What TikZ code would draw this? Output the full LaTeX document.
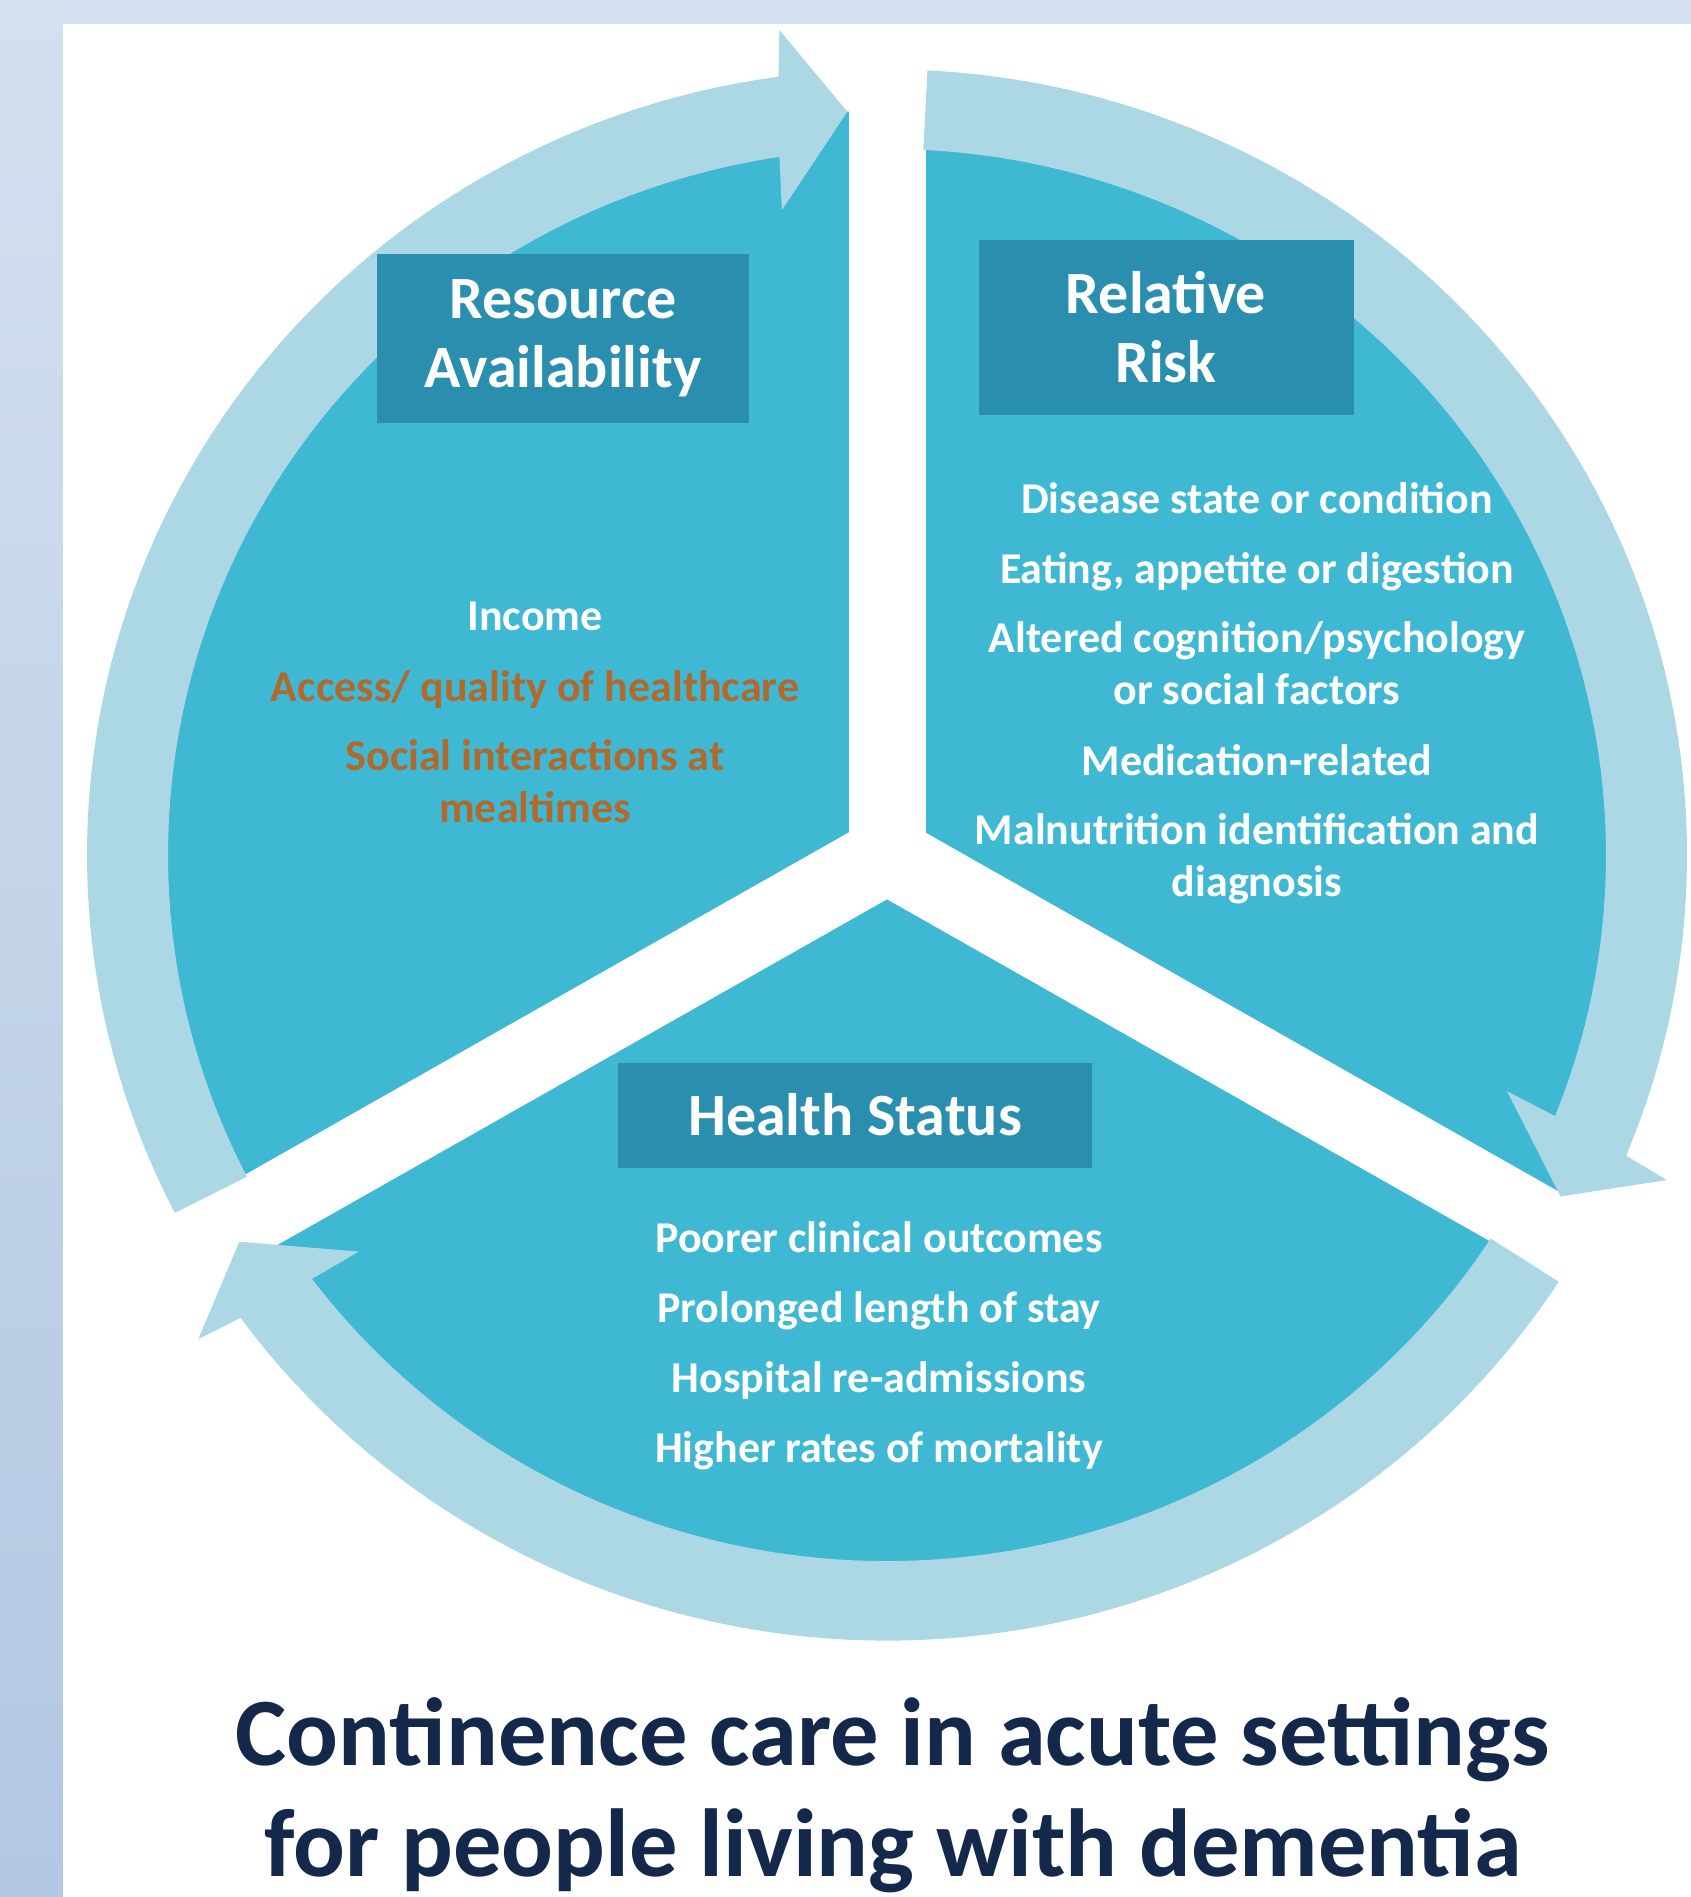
\documentclass[tikz,border=0pt]{standalone}
\usepackage{fontspec}
\setmainfont{Carlito}
\usepackage[dvipsnames]{xcolor}
\usepackage{tikz}

\begin{document}
\begin{tikzpicture}[x=0.5pt,y=0.5pt,yscale=-1,xscale=1,
  sector/.style={fill={rgb, 255:red, 62; green, 184; blue, 211 }},
  ringarrow/.style={fill={rgb, 255:red, 172; green, 215; blue, 228 }},
  gapline/.style={draw=white, line width=38.5pt},
  headbox/.style={fill={rgb, 255:red, 42; green, 142; blue, 174 }, text=white, align=center, inner sep=0.75pt, font=\fontsize{30}{34.5}\selectfont\bfseries},
  bodytxt/.style={text=white, align=center, inner sep=0.75pt, font=\fontsize{22}{26}\selectfont\bfseries},
  ochretxt/.style={bodytxt, text={rgb, 255:red, 178; green, 106; blue, 44 }},
  titletxt/.style={text={rgb, 255:red, 20; green, 40; blue, 75 }, inner sep=0.75pt, font=\fontsize{48.3}{58}\selectfont\bfseries}
]
\useasboundingbox (0,0) rectangle (1691,1897);

%Background frame
\begin{scope}[yscale=-1]
\shade [top color={rgb, 255:red, 211; green, 224; blue, 239 }, bottom color={rgb, 255:red, 178; green, 199; blue, 226 }] (0,0) rectangle (1691,-1897);
\end{scope}
%White panel
\fill [white] (63,24) rectangle (1691,1897);

\coordinate (ctr) at (887,855);
\begin{scope}
\clip (63,24) rectangle (1691,1897);
\begin{scope}[shift={(ctr)}, yscale=-0.982]
%Shape: Circle (the three sectors)
\fill [sector] (0,0) circle [radius=758];
%Straight Lines: white gaps between the sectors
\draw [gapline] (0,0) -- (90:900);
\draw [gapline] (0,0) -- (210:900);
\draw [gapline] (0,0) -- (330:900);
%Shape: Arc arrow, left side up to the top
\fill [ringarrow] (207.1:800) arc [start angle=207.1, end angle=97.8, radius=800] -- (97.3:847) -- (93:758) -- (99.1:665) -- (98.6:719) arc [start angle=98.6, end angle=207.1, radius=719] -- cycle;
%Shape: Arc arrow, top down the right side
\fill [ringarrow] (87.1:800) arc [start angle=87.1, end angle=-22.5, radius=800] -- (-23:847) -- (-27.3:758) -- (-21.2:665) -- (-21.7:719) arc [start angle=-21.7, end angle=87.1, radius=719] -- cycle;
%Shape: Arc arrow, along the bottom
\fill [ringarrow] (-32.9:800) arc [start angle=-32.9, end angle=-143.9, radius=800] -- (-144.4:847) -- (-148.7:758) -- (-142.6:665) -- (-143.1:719) arc [start angle=-143.1, end angle=-32.9, radius=719] -- cycle;
\end{scope}
\end{scope}

% Text Node
\draw (563,338) node (resbox) [headbox, minimum width=186pt, minimum height=84.5pt] {Resource\\Availability};
% Text Node
\draw (1166,327) node (riskbox) [headbox, minimum width=187.5pt, minimum height=87.5pt] {Relative\\Risk};
% Text Node
\draw (855,1115) node (healthbox) [headbox, minimum width=237pt, minimum height=52.5pt] {Health Status};

% Text Node
\draw (535,616) node (income) [bodytxt] {Income};
% Text Node
\draw (535,690) node (access) [ochretxt] {Access/ quality of healthcare};
% Text Node
\draw (535,781) node (social) [ochretxt] {Social interactions at\\mealtimes};

% Text Node
\draw (1257,498) node (disease) [bodytxt] {Disease state or condition};
% Text Node
\draw (1257,572) node (eating) [bodytxt] {Eating, appetite or digestion};
% Text Node
\draw (1257,663) node (altered) [bodytxt] {Altered cognition/psychology\\or social factors};
% Text Node
\draw (1257,760) node (medic) [bodytxt] {Medication-related};
% Text Node
\draw (1257,859) node (malnut) [bodytxt] {Malnutrition identification and\\diagnosis};

% Text Node
\draw (879,1237) node (poorer) [bodytxt] {Poorer clinical outcomes};
% Text Node
\draw (879,1311) node (stay) [bodytxt] {Prolonged length of stay};
% Text Node
\draw (879,1381) node (readm) [bodytxt] {Hospital re-admissions};
% Text Node
\draw (879,1451) node (mort) [bodytxt] {Higher rates of mortality};

% Text Node
\draw (893,1765) node (title1) [titletxt, anchor=base] {Continence care in acute settings};
% Text Node
\draw (893,1876) node (title2) [titletxt, anchor=base] {for people living with dementia};

\end{tikzpicture}
\end{document}
